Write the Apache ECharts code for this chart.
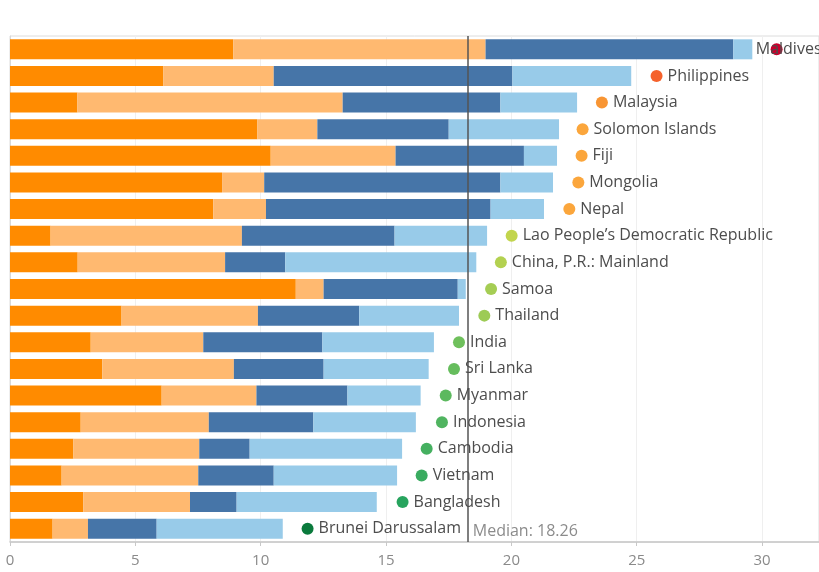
<!DOCTYPE html>
<html>
<head>
<meta charset="utf-8">
<script src="https://cdn.jsdelivr.net/npm/echarts@6/dist/echarts.min.js"></script>
<style>html,body{margin:0;padding:0;background:#fff;}#c{width:819px;height:572px;}</style>
</head>
<body>
<div id="c"></div>
<script>
var categories = ["Maldives","Philippines","Malaysia","Solomon Islands","Fiji","Mongolia","Nepal","Lao People\u2019s Democratic Republic","China, P.R.: Mainland","Samoa","Thailand","India","Sri Lanka","Myanmar","Indonesia","Cambodia","Vietnam","Bangladesh","Brunei Darussalam"];
var darkOrange  = [8.91,6.12,2.69,9.87,10.40,8.46,8.11,1.62,2.70,11.40,4.45,3.22,3.68,6.05,2.82,2.53,2.06,2.92,1.70];
var lightOrange = [10.06,4.40,10.58,2.39,4.98,1.68,2.10,7.63,5.88,1.11,5.44,4.49,5.25,3.78,5.11,5.02,5.45,4.26,1.41];
var darkBlue    = [9.88,9.52,6.29,5.24,5.12,9.42,8.96,6.09,2.40,5.35,4.04,4.75,3.58,3.63,4.17,2.01,3.01,1.86,2.74];
var lightBlue   = [0.76,4.74,3.06,4.40,1.32,2.10,2.13,3.69,7.62,0.32,3.98,4.45,4.19,2.92,4.09,6.08,4.92,5.59,5.03];
var dotX        = [30.58,25.79,23.61,22.84,22.80,22.67,22.31,20.01,19.58,19.19,18.92,17.91,17.71,17.38,17.23,16.62,16.42,15.66,11.87];
var dotColors   = ["#c8002c","#f5622c","#f89533","#fba63c","#fba63c","#fba63c","#fba63c","#c2d54d","#b3d150","#a5cd54","#9dcb55","#6fc05c","#66bd5d","#5cb95e","#50b460","#45b060","#3aab60","#27a45e","#0a7a3c"];
var median = 18.26;
var xTicks = [0,5,10,15,20,25,30];

var chart = echarts.init(document.getElementById('c'));
var FONT = '"Open Sans", sans-serif';
function barSeries(name, data, color, extra) {
  var s = {
    name: name, type: 'bar', stack: 'total', data: data, barWidth: 20,
    itemStyle: { color: color }, silent: true
  };
  if (extra) for (var k in extra) s[k] = extra[k];
  return s;
}
var scatterData = dotX.map(function (v, i) {
  var d = { value: [v, categories[i]], itemStyle: { color: dotColors[i], opacity: 1 } };
  if (i === 0) d.label = { position: 'inside', offset: [12, 0] };
  return d;
});
chart.setOption({
  animation: false,
  grid: { left: 10, right: 0, top: 36, bottom: 30, show: true, borderColor: '#dcdcdc', borderWidth: 1 },
  xAxis: {
    type: 'value', min: 0, max: 32.27, interval: 5,
    axisLine: { show: true, lineStyle: { color: '#c8c8c8', width: 1.5 } },
    axisTick: { show: true, length: 4, lineStyle: { color: '#c8c8c8' } },
    splitLine: { show: true, lineStyle: { color: '#efefef' } },
    axisLabel: {
      color: '#8a8a8a', fontSize: 15, fontFamily: FONT, margin: 11, showMaxLabel: false,
      formatter: function (v) { return xTicks.indexOf(v) >= 0 ? String(v) : ''; }
    }
  },
  yAxis: {
    type: 'category', data: categories, inverse: true,
    axisLine: { show: true, lineStyle: { color: '#d8d8d8' } },
    axisTick: { show: false }, axisLabel: { show: false }, splitLine: { show: false }
  },
  series: [
    barSeries('a', darkOrange, '#ff8b00'),
    barSeries('b', lightOrange, '#ffb970'),
    barSeries('c', darkBlue, '#4675a8'),
    barSeries('d', lightBlue, '#98cbe9', {
      markLine: {
        silent: true, symbol: 'none', label: { show: false },
        lineStyle: { color: '#555555', width: 1.5, type: 'solid' },
        data: [{ xAxis: median }]
      }
    }),
    {
      type: 'scatter', data: scatterData, symbolSize: 12, z: 5,
      itemStyle: { opacity: 1 },
      label: {
        show: true, position: 'right', distance: 5, color: '#4d4d4d', fontSize: 16, fontFamily: FONT,
        formatter: function (p) { return categories[p.dataIndex]; }
      }
    },
    {
      type: 'scatter', symbolSize: 0, z: 5,
      data: [[median, categories[categories.length - 1]]],
      label: {
        show: true, position: 'right', distance: 5, offset: [0, 3], color: '#6e6e6e', fontSize: 16, fontFamily: FONT,
        formatter: function () { return 'Median: ' + median.toFixed(2); }
      }
    }
  ]
});
</script>
</body>
</html>
